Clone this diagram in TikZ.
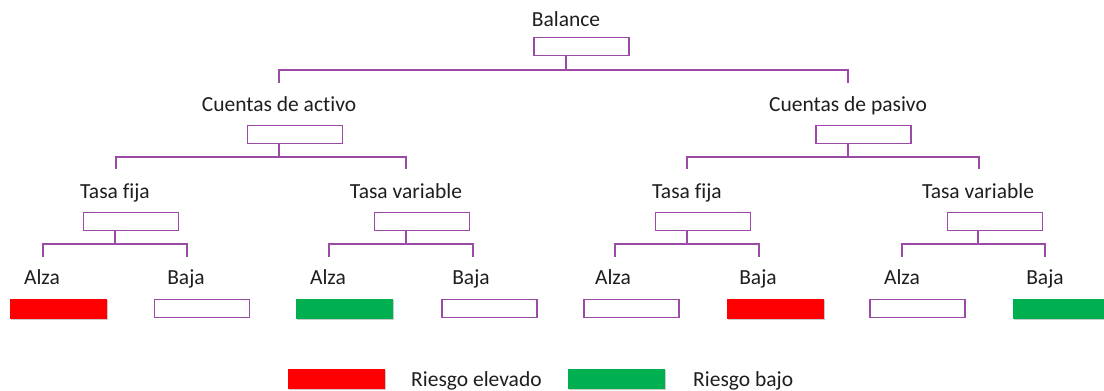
\documentclass[tikz,border=0pt]{standalone}
\usepackage{fontspec}
\setmainfont{Carlito}[Ligatures={NoCommon}]
\usetikzlibrary{shadows}
\definecolor{pur}{RGB}{155,75,165}
\definecolor{rr}{RGB}{255,0,0}
\definecolor{gg}{RGB}{0,176,80}
\definecolor{txt}{RGB}{30,30,30}
\begin{document}
\begin{tikzpicture}[x=1pt,y=-1pt,
  lbl/.style={font=\fontsize{21.5}{25}\selectfont, text=txt, inner sep=0, anchor=base},
  wbox/.style={draw=pur, line width=1.3pt, minimum width=95pt, minimum height=18pt, inner sep=0, fill=white},
  cbox/.style={minimum width=97pt, minimum height=20pt, inner sep=0,
     drop shadow={shadow xshift=1.2pt, shadow yshift=-1.2pt, opacity=0.35, fill=black!60}},
  rbox/.style={cbox, fill=rr},
  gbox/.style={cbox, fill=gg},
  conn/.style={draw=pur, line width=1.4pt}
]
\useasboundingbox (0,0) rectangle (1104,391);

% level 0
\node[lbl] (t0) at (566,26) {Balance};
\node[wbox] (b0) at (581.5,46.5) {};
% level 1
\node[lbl] (tA) at (279,111) {Cuentas de activo};
\node[wbox] (bA) at (295,134.5) {};
\node[lbl] (tP) at (848,111) {Cuentas de pasivo};
\node[wbox] (bP) at (863.5,134.5) {};
% level 2
\node[lbl] (tAF) at (115,198) {Tasa fija};
\node[wbox] (bAF) at (131,221.5) {};
\node[lbl] (tAV) at (406,198) {Tasa variable};
\node[wbox] (bAV) at (422,221.5) {};
\node[lbl] (tPF) at (687,198) {Tasa fija};
\node[wbox] (bPF) at (703,221.5) {};
\node[lbl] (tPV) at (978,198) {Tasa variable};
\node[wbox] (bPV) at (995,221.5) {};
% level 3
\node[lbl] (t1) at (42,284) {Alza};
\node[rbox] (b1) at (58.5,308.5) {};
\node[lbl] (t2) at (186,284) {Baja};
\node[wbox] (b2) at (202,308.5) {};
\node[lbl] (t3) at (328,284) {Alza};
\node[gbox] (b3) at (344.5,308.5) {};
\node[lbl] (t4) at (471,284) {Baja};
\node[wbox] (b4) at (489.5,308.5) {};
\node[lbl] (t5) at (613,284) {Alza};
\node[wbox] (b5) at (631.5,308.5) {};
\node[lbl] (t6) at (758,284) {Baja};
\node[rbox] (b6) at (775,308.5) {};
\node[lbl] (t7) at (902,284) {Alza};
\node[wbox] (b7) at (917.5,308.5) {};
\node[lbl] (t8) at (1045,284) {Baja};
\node[gbox] (b8) at (1061.5,308.5) {};

% drop ends
\coordinate (dA) at (279,83);
\coordinate (dP) at (848,83);
\coordinate (dAF) at (116,169);
\coordinate (dAV) at (406,169);
\coordinate (dPF) at (687,169);
\coordinate (dPV) at (979,169);
\coordinate (d1) at (43,257);
\coordinate (d2) at (187,257);
\coordinate (d3) at (329,257);
\coordinate (d4) at (473,257);
\coordinate (d5) at (615,257);
\coordinate (d6) at (759,257);
\coordinate (d7) at (902,257);
\coordinate (d8) at (1045,257);

% connectors
\draw[conn] (t0 |- b0.south) -- (566,70);
\draw[conn] (dA) -- (dA |- 0,70) -- (dP |- 0,70) -- (dP);
\draw[conn] (tA |- bA.south) -- (279,157);
\draw[conn] (dAF) -- (dAF |- 0,157) -- (dAV |- 0,157) -- (dAV);
\draw[conn] (tP |- bP.south) -- (848,157);
\draw[conn] (dPF) -- (dPF |- 0,157) -- (dPV |- 0,157) -- (dPV);
\draw[conn] (tAF |- bAF.south) -- (115,244);
\draw[conn] (d1) -- (d1 |- 0,244) -- (d2 |- 0,244) -- (d2);
\draw[conn] (tAV |- bAV.south) -- (406,244);
\draw[conn] (d3) -- (d3 |- 0,244) -- (d4 |- 0,244) -- (d4);
\draw[conn] (tPF |- bPF.south) -- (687,244);
\draw[conn] (d5) -- (d5 |- 0,244) -- (d6 |- 0,244) -- (d6);
\draw[conn] (tPV |- bPV.south) -- (978,244);
\draw[conn] (d7) -- (d7 |- 0,244) -- (d8 |- 0,244) -- (d8);

% legend
\node[rbox] (lr) at (336.5,379) {};
\node[lbl, anchor=base west] (lrt) at (411,386) {Riesgo elevado};
\node[gbox] (lg) at (616,379) {};
\node[lbl, anchor=base west] (lgt) at (693,386) {Riesgo bajo};
\end{tikzpicture}
\end{document}
